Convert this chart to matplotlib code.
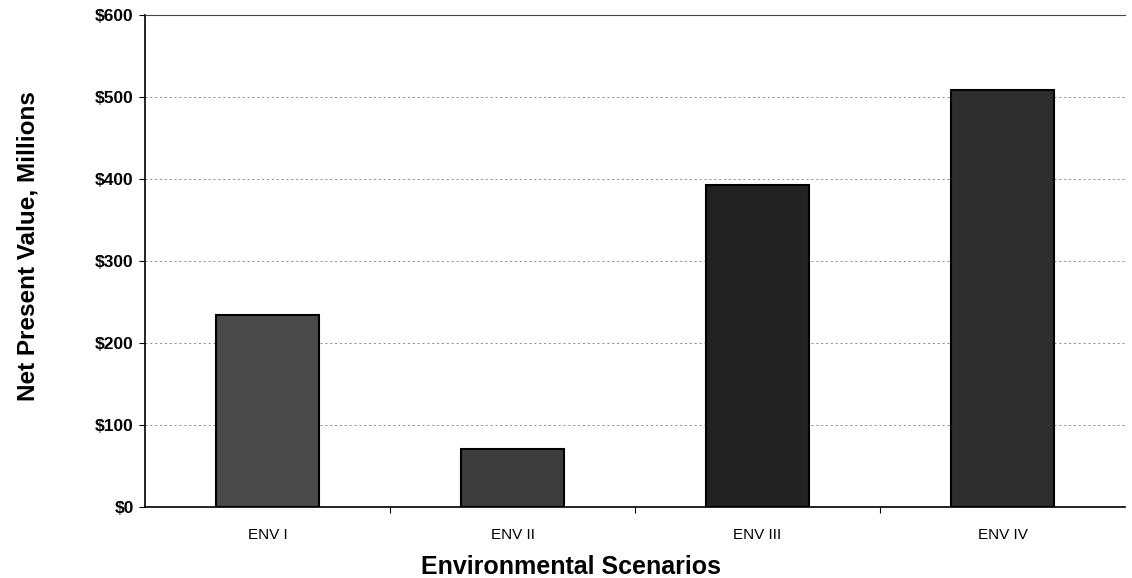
import matplotlib
matplotlib.use("Agg")
import matplotlib.pyplot as plt
from matplotlib.ticker import FixedLocator

# data
scenarios = ["ENV I", "ENV II", "ENV III", "ENV IV"]
npv_millions = [234, 71, 393, 508]
bar_colors = ["#4a4a4a", "#3c3c3c", "#222222", "#2e2e2e"]
y_ticks = [0, 100, 200, 300, 400, 500, 600]

plt.rcParams["font.family"] = ["Liberation Sans", "DejaVu Sans"]

fig = plt.figure(figsize=(11.32, 5.78), dpi=100)
ax = fig.add_axes([0.128, 0.123, 0.866, 0.851])

x = list(range(len(scenarios)))
ax.bar(x, npv_millions, width=0.42, color=bar_colors,
       edgecolor="black", linewidth=1.5, zorder=3)

ax.set_xlim(-0.5, len(scenarios) - 0.5)
ax.set_ylim(0, 600)
ax.set_yticks(y_ticks)
ax.set_yticklabels(["$%d" % v for v in y_ticks], fontweight="bold", fontsize=12.5)
ax.set_xticks(x)
ax.set_xticklabels(scenarios, fontsize=11,
                   family=["Liberation Sans Narrow", "Liberation Sans", "DejaVu Sans"])
ax.tick_params(axis="x", length=0, pad=15)
ax.tick_params(axis="y", length=4, width=0.8, pad=4)
ax.xaxis.set_minor_locator(FixedLocator([0.5, 1.5, 2.5]))
ax.tick_params(axis="x", which="minor", length=4, width=0.8, direction="out")

# dotted gridlines
for v in y_ticks[1:-1]:
    ax.axhline(v, color="#888888", linestyle=(0, (2, 3)), linewidth=0.7, zorder=1)

ax.spines["right"].set_visible(False)
ax.spines["top"].set_linewidth(0.8)
ax.spines["top"].set_color("#444444")
ax.spines["left"].set_linewidth(1.2)
ax.spines["bottom"].set_linewidth(1.2)

ax.set_xlabel("Environmental Scenarios", fontsize=18, fontweight="bold")
ax.set_ylabel("Net Present Value, Millions", fontsize=17.5, fontweight="bold")
ax.xaxis.set_label_coords(0.435, -0.097)
ax.yaxis.set_label_coords(-0.108, 0.53)

fig.savefig("out.png", dpi=100)
